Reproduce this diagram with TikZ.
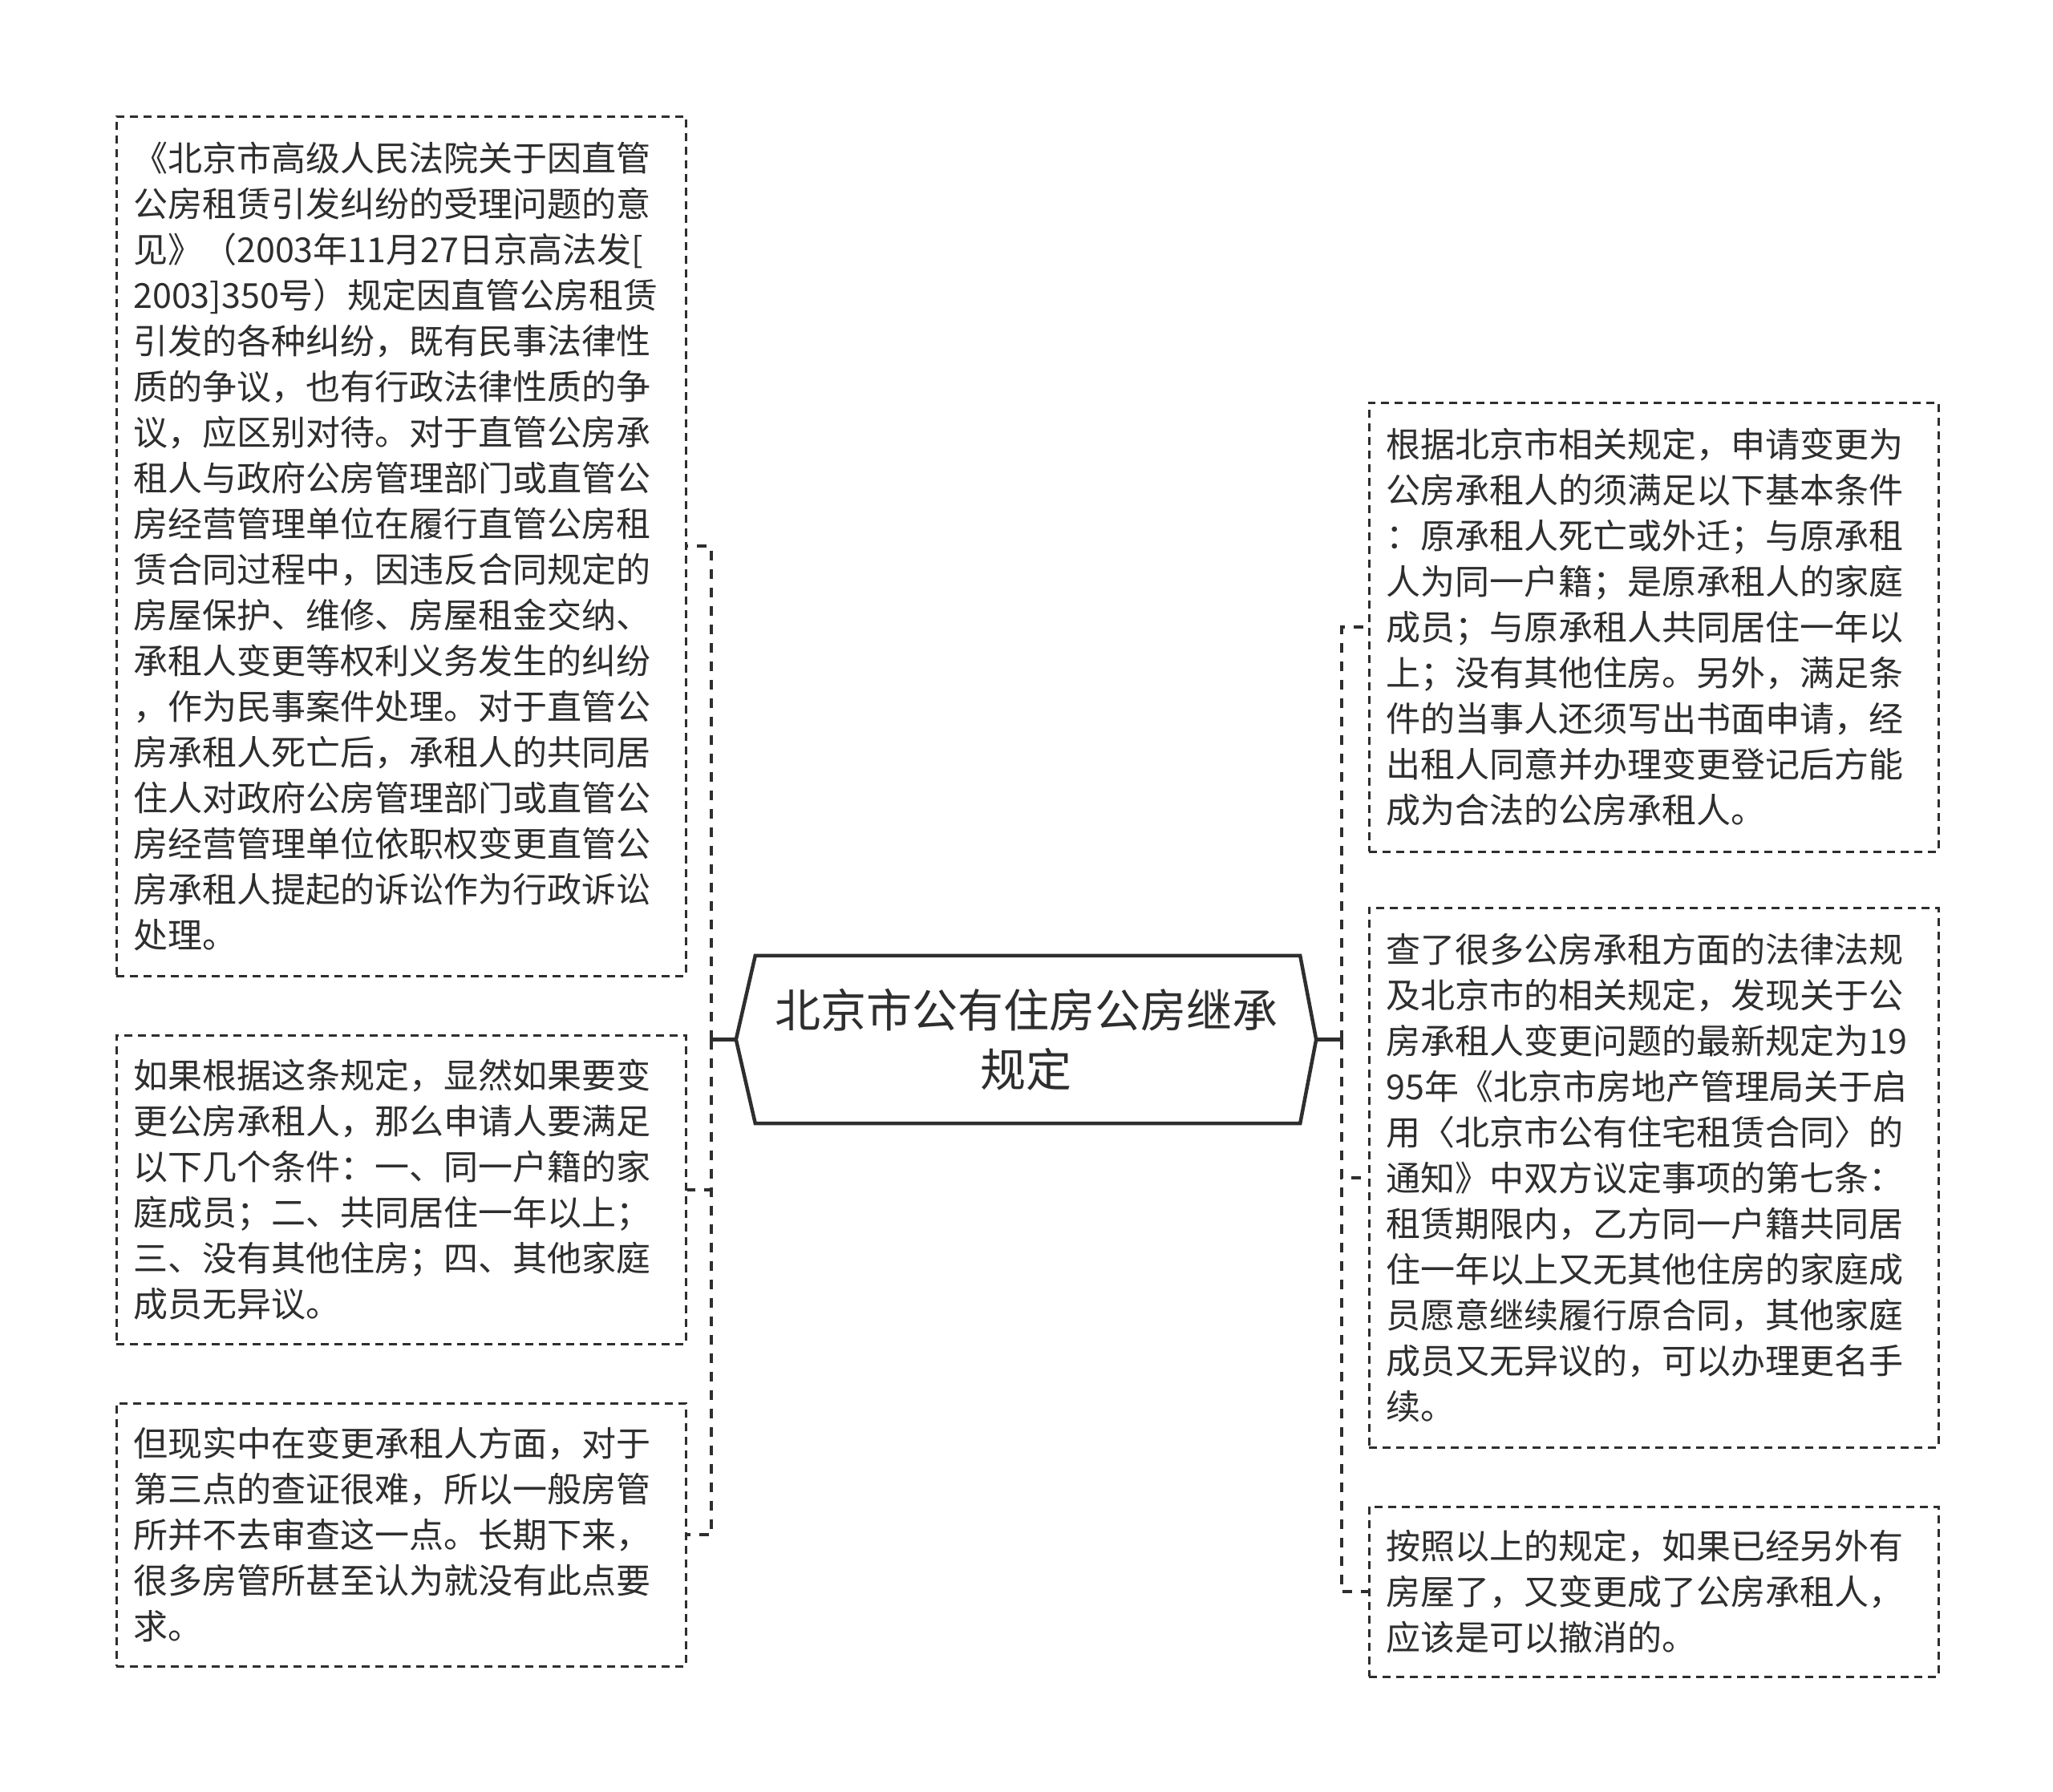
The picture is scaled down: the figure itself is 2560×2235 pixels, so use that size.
\documentclass[tikz,border=0pt]{standalone}
\usepackage{fontspec}
\newfontfamily\cjk{Noto Sans CJK SC}
\definecolor{ink}{HTML}{2E2E2E}
\tikzset{
  leaf/.style={anchor=north west, draw=ink, line width=2.6pt, dash pattern=on 10pt off 7pt,
    text=ink, font=\cjk\fontsize{43}{57}\selectfont, align=left,
    text width=668pt, inner xsep=21pt, inner ysep=8pt, minimum width=710pt},
  conn/.style={draw=ink, line width=4pt, dash pattern=on 12pt off 11pt},
  stub/.style={draw=ink, line width=4.5pt},
  hex/.style={draw=ink, line width=4.5pt, fill=white},
}
\begin{document}
\begin{tikzpicture}[x=1pt,y=-1pt]
\useasboundingbox (0,0) rectangle (2560,2235);
\fill[white] (0,0) rectangle (2560,2235);

% central node (frame)
\node[minimum width=723pt, minimum height=209pt, inner sep=0pt] (c) at (1279.5,1296.5) {};
\draw[hex] ([xshift=24pt]c.north west) -- ([xshift=-20pt]c.north east) -- (c.east)
  -- ([xshift=-20pt]c.south east) -- ([xshift=24pt]c.south west) -- (c.west) -- cycle;
\node[text=ink, font=\cjk\fontsize{57}{74}\selectfont, align=center, inner sep=0pt] (ct) at (c.center)
  {北京市公有住房公房继承\\规定};

% left leaves
\node[leaf, minimum height=1072pt] (L1) at (144,144) {《北京市高级人民法院关于因直管\\
公房租赁引发纠纷的受理问题的意\\
见》（2003年11月27日京高法发[\\
2003]350号）规定因直管公房租赁\\
引发的各种纠纷，既有民事法律性\\
质的争议，也有行政法律性质的争\\
议，应区别对待。对于直管公房承\\
租人与政府公房管理部门或直管公\\
房经营管理单位在履行直管公房租\\
赁合同过程中，因违反合同规定的\\
房屋保护、维修、房屋租金交纳、\\
承租人变更等权利义务发生的纠纷\\
，作为民事案件处理。对于直管公\\
房承租人死亡后，承租人的共同居\\
住人对政府公房管理部门或直管公\\
房经营管理单位依职权变更直管公\\
房承租人提起的诉讼作为行政诉讼\\
处理。};
\node[leaf, minimum height=385pt] (L2) at (144,1290) {如果根据这条规定，显然如果要变\\
更公房承租人，那么申请人要满足\\
以下几个条件：一、同一户籍的家\\
庭成员；二、共同居住一年以上；\\
三、没有其他住房；四、其他家庭\\
成员无异议。};
\node[leaf, minimum height=328pt] (L3) at (144,1749) {但现实中在变更承租人方面，对于\\
第三点的查证很难，所以一般房管\\
所并不去审查这一点。长期下来，\\
很多房管所甚至认为就没有此点要\\
求。};

% right leaves
\node[leaf, minimum height=560pt] (R1) at (1706,501) {根据北京市相关规定，申请变更为\\
公房承租人的须满足以下基本条件\\
：原承租人死亡或外迁；与原承租\\
人为同一户籍；是原承租人的家庭\\
成员；与原承租人共同居住一年以\\
上；没有其他住房。另外，满足条\\
件的当事人还须写出书面申请，经\\
出租人同意并办理变更登记后方能\\
成为合法的公房承租人。};
\node[leaf, minimum height=673pt] (R2) at (1706,1131) {查了很多公房承租方面的法律法规\\
及北京市的相关规定，发现关于公\\
房承租人变更问题的最新规定为19\\
95年《北京市房地产管理局关于启\\
用〈北京市公有住宅租赁合同〉的\\
通知》中双方议定事项的第七条：\\
租赁期限内，乙方同一户籍共同居\\
住一年以上又无其他住房的家庭成\\
员愿意继续履行原合同，其他家庭\\
成员又无异议的，可以办理更名手\\
续。};
\node[leaf, minimum height=212pt] (R3) at (1706,1878) {按照以上的规定，如果已经另外有\\
房屋了，又变更成了公房承租人，\\
应该是可以撤消的。};

% connectors
\coordinate (lt) at (887,1296.5);
\coordinate (rt) at (1673,1296.5);
\draw[stub] (c.west) -- (lt);
\draw[stub] (c.east) -- (rt);
\draw[stub] ([yshift=-9pt]lt) -- ([yshift=9pt]lt);
\draw[stub] ([yshift=-9pt]rt) -- ([yshift=9pt]rt);
\draw[conn] (lt) |- (L1.east);
\draw[conn] (lt) |- (L2.east);
\draw[conn] (lt) |- (L3.east);
\draw[conn] (rt) |- (R1.west);
\draw[conn] (rt) |- (R2.west);
\draw[conn] (rt) |- (R3.west);
\end{tikzpicture}
\end{document}
